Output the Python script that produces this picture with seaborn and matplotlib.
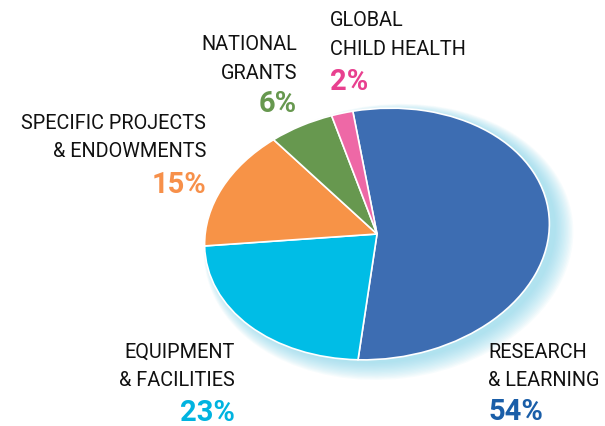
import matplotlib
matplotlib.use('Agg')
import matplotlib.pyplot as plt
import matplotlib.transforms as mtransforms
from matplotlib.patches import Ellipse
import seaborn as sns

sns.set_style('white')
plt.rcParams['font.family'] = ['Roboto', 'DejaVu Sans']

# data, clockwise from the top
categories = ['RESEARCH\n& LEARNING', 'EQUIPMENT\n& FACILITIES',
              'SPECIFIC PROJECTS\n& ENDOWMENTS', 'NATIONAL\nGRANTS',
              'GLOBAL\nCHILD HEALTH']
shares = [54, 23, 15, 6, 2]
wedge_colors = ['#3d6db2', '#00bde6', '#f79347', '#67984f', '#ee68a6']
pct_colors = ['#1a5ea8', '#00b3e0', '#f7904a', '#67984f', '#e8408f']

fig = plt.figure(figsize=(6.05, 4.27), dpi=100)
ax = fig.add_axes([0, 0, 1, 1])

# pie is drawn as a unit circle, then squashed and tilted into the ellipse
cx, cy = 377, 427 - 235
rx, ry, tilt = 173, 125, 7
tr = mtransforms.Affine2D().scale(rx, ry).rotate_deg(tilt).translate(cx, cy) + ax.transData

# soft cyan glow behind the pie (bottom-right)
for i in range(14):
    g = Ellipse((0.035 + 0.002 * i, -0.035 - 0.003 * i), 2 + 0.011 * i, 2 + 0.015 * i,
                color='#7fd4ea', alpha=0.06, lw=0, transform=tr)
    ax.add_patch(g)

wedges, _ = ax.pie(shares, colors=wedge_colors, startangle=93, counterclock=False,
                   wedgeprops=dict(edgecolor='white', linewidth=1.2))
for w in wedges:
    w.set_transform(tr)

ax.set_xlim(0, 605)
ax.set_ylim(0, 427)
ax.set_aspect('auto')
ax.axis('off')

# label positions in pixels: x, centre of the two-line name, centre of the percent
label_pos = [(488, 366.5, 412, 'left'), (235, 366.5, 413, 'right'),
             (206, 137.5, 185, 'right'), (297, 59, 104, 'right'),
             (330, 35, 82, 'left')]
for cat, pct, col, (x, yc, yp, ha) in zip(categories, shares, pct_colors, label_pos):
    ax.text(x, 427 - yc, cat, ha=ha, va='center', fontsize=14.3, color='#111111',
            linespacing=1.62)
    ax.text(x, 427 - yp, f'{pct}%', ha=ha, va='center', fontsize=21,
            fontweight='bold', color=col)

fig.savefig('out.png', dpi=100)
